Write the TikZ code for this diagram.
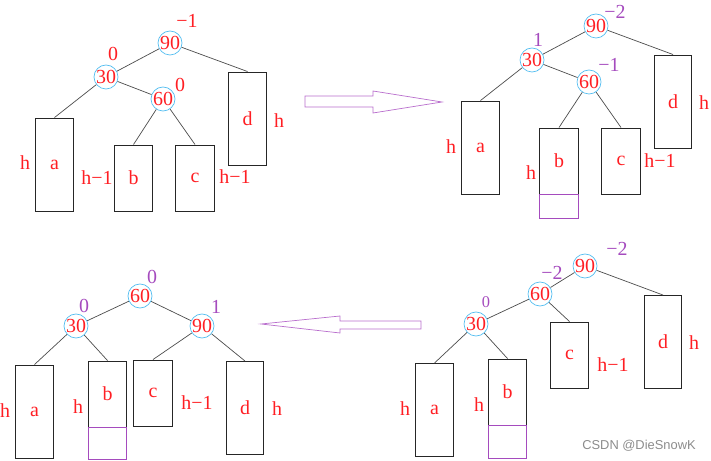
\documentclass[tikz,border=0pt]{standalone}
\usepackage{fontspec}
\usepackage{tikz}
\usetikzlibrary{positioning}
\setmainfont{Liberation Serif}
\newfontfamily\wmfont{Liberation Sans}
\definecolor{avlred}{RGB}{255,30,35}
\definecolor{avlpurple}{RGB}{165,75,190}
\definecolor{ringblue}{RGB}{85,190,240}
\definecolor{arrowpurple}{RGB}{185,110,205}

\begin{document}
\begin{tikzpicture}[
  x=0.03cm,y=-0.03cm,
  font=\fontsize{17}{20}\selectfont,
  key/.style={circle,draw=ringblue,semithick,text=avlred,inner sep=0pt,minimum size=0.72cm},
  tall/.style={draw=black!85,thick,text=avlred,minimum width=1.12cm,minimum height=2.79cm},
  short/.style={draw=black!85,thick,text=avlred,minimum width=1.15cm,minimum height=1.98cm},
  newbox/.style={draw=avlpurple,semithick,minimum width=1.15cm,anchor=north},
  bf/.style={text=avlpurple,inner sep=1pt},
  lbl/.style={text=avlred,inner sep=1pt},
  edge/.style={draw=black!70,semithick},
  bigarrow/.style={draw=arrowpurple,semithick,fill=white}
]
\useasboundingbox (0,0) rectangle (711,461);

% ---- before insertion (top left) ----
\node[key] (pre90) at (170,43) {90};
\node[key] (pre30) at (106,77) {30};
\node[key] (pre60) at (163,99) {60};
\node[tall]  (preA) at (54.5,164.5) {a};
\node[short] (preB) at (133.5,178) {b};
\node[short] (preC) at (195,178) {c};
\node[tall]  (preD) at (247.5,118.5) {d};
\draw[edge] (pre90) -- (pre30);
\draw[edge] (pre90) -- (preD.north);
\draw[edge] (pre30) -- (preA.north);
\draw[edge] (pre30) -- (pre60);
\draw[edge] (pre60) -- (preB.north);
\draw[edge] (pre60) -- (preC.north);
\node[lbl] (preF90) at (187,21) {−1};
\node[lbl] (preF30) at (113,54) {0};
\node[lbl] (preF60) at (180,85) {0};
\node[lbl] (preHA) at (25,163) {h};
\node[lbl] (preHB) at (97,178) {h−1};
\node[lbl] (preHC) at (235,177) {h−1};
\node[lbl] (preHD) at (279,121) {h};

% ---- after insertion under b (top right) ----
\node[key] (ins90) at (596,26) {90};
\node[key] (ins30) at (532,60) {30};
\node[key] (ins60) at (589,82) {60};
\node[tall]  (insA) at (480.5,147.5) {a};
\node[short] (insB) at (559,161) {b};
\node[short] (insC) at (621,161) {c};
\node[tall]  (insD) at (673,101.5) {d};
\node[newbox,minimum height=0.72cm] (insX) at (insB.south) {};
\draw[edge] (ins90) -- (ins30);
\draw[edge] (ins90) -- (insD.north);
\draw[edge] (ins30) -- (insA.north);
\draw[edge] (ins30) -- (ins60);
\draw[edge] (ins60) -- (insB.north);
\draw[edge] (ins60) -- (insC.north);
\node[bf] (insF90) at (615,12) {−2};
\node[bf] (insF30) at (538,40) {1};
\node[bf] (insF60) at (609,65) {−1};
\node[lbl] (insHA) at (451,147) {h};
\node[lbl] (insHB) at (531,173) {h};
\node[lbl] (insHC) at (660,161) {h−1};
\node[lbl] (insHD) at (704,103) {h};

% ---- after left rotation at 30 (bottom right) ----
\node[key] (rot90) at (585,266) {90};
\node[key] (rot60) at (540,294) {60};
\node[key] (rot30) at (476,324) {30};
\node[tall]  (rotA) at (434.5,410) {a};
\node[short] (rotB) at (507.5,392) {b};
\node[short] (rotC) at (569.5,355) {c};
\node[tall]  (rotD) at (663,342) {d};
\node[newbox,minimum height=0.99cm] (rotX) at (rotB.south) {};
\draw[edge] (rot90) -- (rot60);
\draw[edge] (rot90) -- (rotD.north);
\draw[edge] (rot60) -- (rot30);
\draw[edge] (rot60) -- (rotC.north);
\draw[edge] (rot30) -- (rotA.north);
\draw[edge] (rot30) -- (rotB.north);
\node[bf] (rotF90) at (617,249) {−2};
\node[bf] (rotF60) at (552,273) {−2};
\node[bf,font=\fontsize{14}{16}\selectfont] (rotF30) at (486,302) {0};
\node[lbl] (rotHA) at (405,409) {h};
\node[lbl] (rotHB) at (479,405) {h};
\node[lbl] (rotHC) at (613,365) {h−1};
\node[lbl] (rotHD) at (694,343) {h};

% ---- after right rotation at 90 (bottom left) ----
\node[key] (fin60) at (140,296) {60};
\node[key] (fin30) at (76,326) {30};
\node[key] (fin90) at (202,326) {90};
\node[tall]  (finA) at (34.5,411.5) {a};
\node[short] (finB) at (107.5,394) {b};
\node[short] (finC) at (153,393) {c};
\node[tall]  (finD) at (245,408) {d};
\node[newbox,minimum height=0.96cm] (finX) at (finB.south) {};
\draw[edge] (fin60) -- (fin30);
\draw[edge] (fin60) -- (fin90);
\draw[edge] (fin30) -- (finA.north);
\draw[edge] (fin30) -- (finB.north);
\draw[edge] (fin90) -- (finC.north);
\draw[edge] (fin90) -- (finD.north);
\node[bf] (finF60) at (152,277) {0};
\node[bf] (finF30) at (84,306) {0};
\node[bf] (finF90) at (216,307) {1};
\node[lbl] (finHA) at (5,411) {h};
\node[lbl] (finHB) at (78,407) {h};
\node[lbl] (finHC) at (197,403) {h−1};
\node[lbl] (finHD) at (277,409) {h};

% ---- block arrows ----
\draw[bigarrow] (305,96) -- (373,96) -- (373,91) -- (442,102) -- (373,113)
  -- (373,107) -- (305,107) -- cycle;
\draw[bigarrow] (421,321) -- (340,321) -- (340,316) -- (261,324) -- (340,333)
  -- (340,329) -- (421,329) -- cycle;

\node[text=black!45,font=\wmfont\fontsize{11}{13}\selectfont] (mark) at (639,446) {CSDN @DieSnowK};
\end{tikzpicture}
\end{document}
